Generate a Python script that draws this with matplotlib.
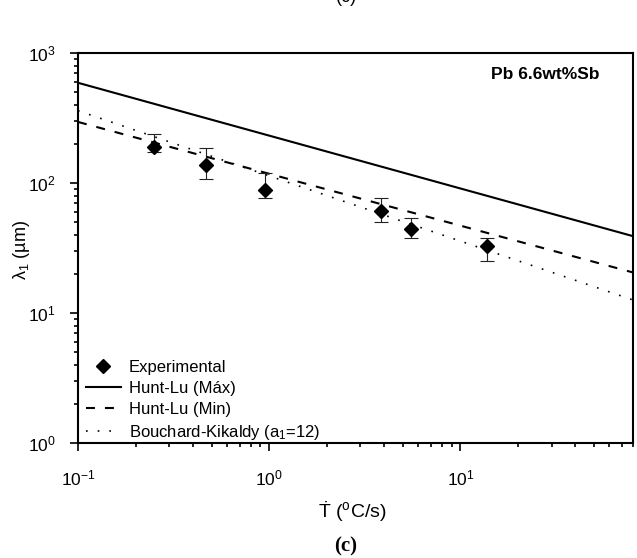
import matplotlib
matplotlib.use("Agg")
import matplotlib.pyplot as plt
import matplotlib.font_manager as fm
from matplotlib.lines import Line2D
from matplotlib.ticker import LogLocator, NullFormatter

# ---------------- data ----------------
cooling_rate = [0.25, 0.47, 0.95, 3.85, 5.55, 13.8]          # T-dot (oC/s)
spacing_exp = [190, 138, 89, 61, 44, 32.5]                   # lambda1 (um)
spacing_err_hi = [239, 187, 120, 76, 54, 38]                 # upper end of error bar
spacing_err_lo = [174, 108, 77, 50, 37.5, 25]                # lower end of error bar

model_x = [0.1, 80]
hunt_lu_max = [590, 39]
hunt_lu_min = [295, 20.5]
bouchard_kirkaldy = [360, 12.6]

labels = ["Experimental", "Hunt-Lu (Máx)", "Hunt-Lu (Min)",
          "Bouchard-Kikaldy (a$_1$=12)"]
alloy_label = "Pb 6.6wt%Sb"
panel_label = "(c)"

# ---------------- fonts ----------------
names = {f.name for f in fm.fontManager.ttflist}
fam = "Liberation Sans Narrow" if "Liberation Sans Narrow" in names else "Liberation Sans"
plt.rcParams["font.family"] = [fam, "DejaVu Sans"]
plt.rcParams["mathtext.fontset"] = "custom"
plt.rcParams["mathtext.rm"] = fam
plt.rcParams["mathtext.it"] = fam
plt.rcParams["mathtext.default"] = "regular"
plt.rcParams["axes.unicode_minus"] = False

W, H = 637, 558
fig = plt.figure(figsize=(W / 100, H / 100), dpi=100)
L, R, T, B = 78, 633, 53, 443
ax = fig.add_axes([L / W, 1 - B / H, (R - L) / W, (B - T) / H])

ax.set_xscale("log")
ax.set_yscale("log")

ax.errorbar(cooling_rate, spacing_exp,
            yerr=[[e - l for e, l in zip(spacing_exp, spacing_err_lo)],
                  [h - e for e, h in zip(spacing_exp, spacing_err_hi)]],
            fmt="none", ecolor="#222222", elinewidth=0.8, capsize=5,
            capthick=0.8, zorder=4)
h_exp, = ax.plot(cooling_rate, spacing_exp, "D", color="black",
                 markersize=7.5, linestyle="none", zorder=5)
h_max, = ax.plot(model_x, hunt_lu_max, "-", color="black", lw=1.5)
h_min, = ax.plot(model_x, hunt_lu_min, color="black", lw=1.5,
                 linestyle=(0, (4.3, 4.8)))
h_bk, = ax.plot(model_x, bouchard_kirkaldy, color="black", lw=1.2,
                linestyle=(0, (1, 6)))

ax.set_xlim(0.1, 80)
ax.set_ylim(1, 1000)

for s in ax.spines.values():
    s.set_linewidth(1.5)

ax.xaxis.set_major_locator(LogLocator(base=10, numticks=10))
ax.xaxis.set_minor_locator(LogLocator(base=10, subs=range(2, 10), numticks=20))
ax.yaxis.set_major_locator(LogLocator(base=10, numticks=10))
ax.yaxis.set_minor_locator(LogLocator(base=10, subs=range(2, 10), numticks=20))
ax.xaxis.set_minor_formatter(NullFormatter())
ax.yaxis.set_minor_formatter(NullFormatter())
ax.tick_params(which="both", direction="out", top=False, right=False,
               labelsize=12.5, width=1.2)
ax.tick_params(which="major", length=6)
ax.tick_params(axis="x", which="major", pad=12)
ax.tick_params(axis="y", which="major", pad=10)
ax.tick_params(which="minor", length=3)

leg = ax.legend([h_exp, h_max, h_min, h_bk], labels, loc="lower left",
                bbox_to_anchor=(0.014, 0.003), frameon=False, fontsize=12,
                handlelength=2.1, handletextpad=0.5, labelspacing=0.35,
                borderpad=0, borderaxespad=0)

ax.text(0.94, 0.946, alloy_label, transform=ax.transAxes, ha="right",
        va="center", fontsize=12.5, fontweight="bold")

fig.text(22 / W, 1 - 250 / H, "λ$_1$ (µm)", rotation=90, ha="center",
         va="center", fontsize=13)
fig.text(352 / W, 1 - 512 / H, r"$\dot{T}$ ($^{o}$C/s)", ha="center",
         va="center", fontsize=14)
fig.text(346 / W, 1 - 546 / H, panel_label, ha="center", va="center",
         fontsize=15, fontweight="bold", family="Liberation Serif")
fig.text(346 / W, 1 + 3 / H, panel_label, ha="center", va="center",
         fontsize=13)

fig.savefig("out.png", dpi=100)
